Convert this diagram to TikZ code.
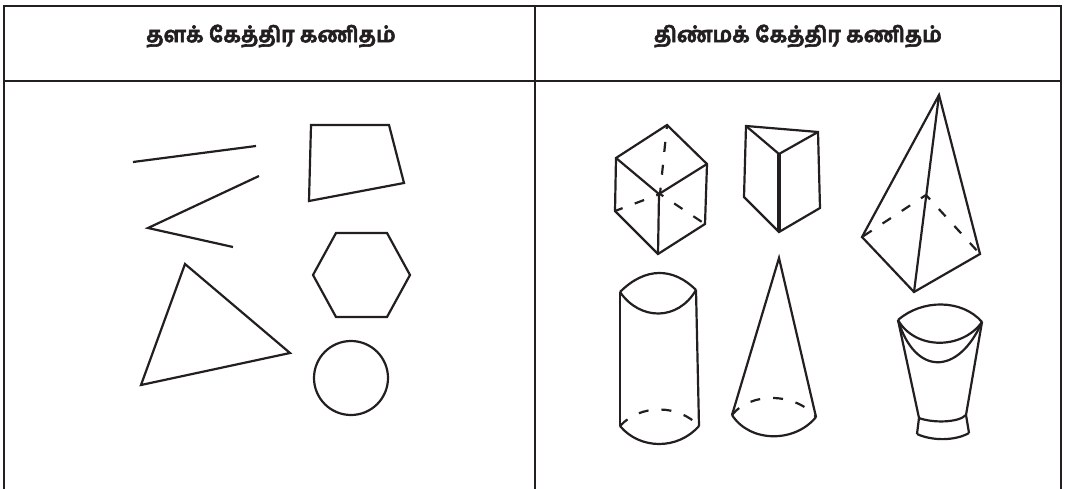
\documentclass[tikz,border=0pt]{standalone}
\usepackage{fontspec}
\newfontfamily\tamilfont[Script=Tamil,FakeBold=2.6]{Hind Madurai}
\definecolor{inkblack}{HTML}{231F20}

\begin{document}
\begin{tikzpicture}[
  every node/.style={inner sep=0pt},
  x=1pt, y=-1pt,
  rule/.style={draw=inkblack, line width=2pt},
  solid3d/.style={draw=inkblack, line width=2.2pt, line join=miter},
  hidden3d/.style={solid3d, dash pattern=on 10pt off 13pt},
  title/.style={font=\tamilfont\bfseries\fontsize{21.5}{25}\selectfont, text=inkblack}
]
\useasboundingbox (0,0) rectangle (1065,489);

% Table rules, open at the bottom
\draw[rule] (4,489) -- (4,6) -- (1061,6) -- (1061,489);
\draw[rule] (4,81) -- (1061,81);
\draw[rule] (535,6) -- (535,489);

% Column heads
\node[title] (planehead) at (271,36) {தளக் கேத்திர கணிதம்};
\node[title] (solidhead) at (798,36) {திண்மக் கேத்திர கணிதம்};

% Plane figures
\draw[solid3d] (133,162) -- (256,146);
\draw[solid3d] (259,176) -- (148,228) -- (233,247);
\draw[solid3d] (311,125) -- (389,125) -- (404,183) -- (309,201) -- cycle;
\draw[solid3d] (336,233) -- (387,233) -- (410,275) -- (387,317) -- (336,317) -- (313,275) -- cycle;
\draw[solid3d] (185,264) -- (290,353) -- (141,385) -- cycle;
\draw[solid3d] (351,378) circle (37);

% Cube
\draw[solid3d] (667,125) -- (616,158) -- (615,211) -- (658,254) -- (705,224) -- (707,164) -- cycle;
\draw[solid3d] (616,158) -- (659,194) -- (707,164);
\draw[solid3d] (659,194) -- (658,254);
\draw[hidden3d, dash phase=6pt] (667,125) -- (660,194);
\draw[hidden3d, dash phase=6pt] (660,194) -- (615,211);
\draw[hidden3d, dash phase=6pt] (660,194) -- (705,224);

% Prism
\draw[solid3d] (746,126) -- (818,132) -- (820,208) -- (779,232) -- (744,197) -- cycle;
\draw[solid3d] (746,126) -- (779,154) -- (818,132);
\draw[solid3d, line width=4pt] (779,154) -- (779,232);

% Pyramid
\draw[solid3d] (939,95) -- (862,237) -- (914,292) -- (980,254) -- cycle;
\draw[solid3d] (939,95) -- (914,292);
\draw[hidden3d, dash phase=4pt] (926,195) -- (862,237);
\draw[hidden3d, dash phase=4pt] (926,195) -- (980,254);

% Cylinder
\draw[solid3d] (620,292) .. controls (645,267) and (673,267) .. (696,290);
\draw[solid3d] (620,292) .. controls (640,321) and (678,321) .. (696,290);
\draw[solid3d] (620,292) -- (620,426);
\draw[solid3d] (696,290) -- (699,426);
\draw[solid3d] (620,426) .. controls (640,450) and (678,450) .. (699,426);
\draw[hidden3d] (620,426) .. controls (640,404) and (678,404) .. (699,426);

% Cone
\draw[solid3d] (732,415) -- (779,258) -- (816,417);
\draw[solid3d] (732,415) .. controls (750,443) and (795,443) .. (816,417);
\draw[hidden3d] (732,415) .. controls (750,392) and (795,392) .. (816,417);

% Cup
\draw[solid3d] (898,320) .. controls (922,299) and (962,299) .. (982,322);
\draw[solid3d] (898,320) .. controls (915,350) and (962,350) .. (982,322);
\draw[solid3d] (898,320) .. controls (915,376) and (958,376) .. (982,322);
\draw[solid3d] (898,320) -- (919,418) -- (917,434);
\draw[solid3d] (982,322) -- (966,415) -- (969,433);
\draw[solid3d] (919,418) .. controls (932,423) and (958,423) .. (966,415);
\draw[solid3d] (917,434) .. controls (932,441) and (955,441) .. (969,433);

\end{tikzpicture}
\end{document}
